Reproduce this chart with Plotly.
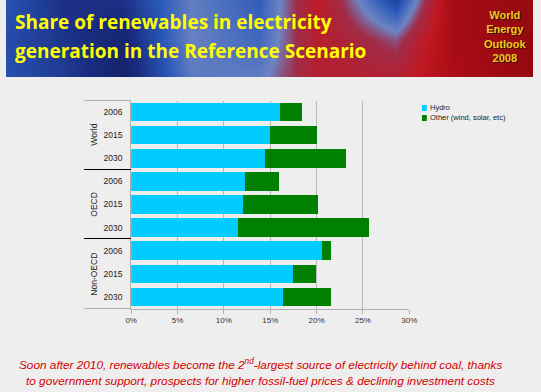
import plotly.graph_objects as go

# ---- data ----
regions = ["World", "OECD", "Non-OECD"]
years = ["2006", "2015", "2030"]
hydro = [16.0, 15.0, 14.4, 12.3, 12.1, 11.5, 20.6, 17.5, 16.4]
other = [2.4, 5.0, 8.8, 3.6, 8.0, 14.2, 1.0, 2.4, 5.2]
x_ticks = [0, 5, 10, 15, 20, 25, 30]
x_tick_labels = ["0%", "5%", "10%", "15%", "20%", "25%", "30%"]
series_names = ["Hydro", "Other (wind, solar, etc)"]
series_colors = ["#00ccff", "#008000"]

cats = [f"{r}|{y}" for r in regions for y in years]
tick_years = [y for r in regions for y in years]

W, H = 541, 392
# plot area in pixels
px_l, px_r, px_t, px_b = 128.5, 414, 100.5, 308.5
banner_h = 77

fig = go.Figure()

# banner (decorative gradient)
banner_x = [-40, 0, 60, 120, 190, 260, 320, 400, 460, 541, 580]
banner_z = [
    [0.28, 0.28, 0.22, 0.06, 0.40, 0.46, 0.62, 0.70, 0.82, 0.95, 0.95],
    [0.26, 0.26, 0.18, 0.10, 0.44, 0.35, 0.66, 0.50, 0.86, 0.95, 0.95],
    [0.30, 0.30, 0.15, 0.20, 0.42, 0.30, 0.70, 0.08, 0.88, 0.93, 0.93],
]
fig.add_trace(go.Heatmap(
    z=banner_z, x=banner_x, y=[-0.5, 1, 2.5],
    zsmooth="best", showscale=False, hoverinfo="skip", zmin=0, zmax=1,
    colorscale=[[0, "#0c1850"], [0.15, "#1a2c80"], [0.3, "#2a58b8"],
                [0.45, "#6c84c4"], [0.55, "#a02c48"], [0.7, "#c01822"],
                [0.85, "#a80c14"], [1, "#8a0810"]],
    xaxis="x2", yaxis="y2"))

for name, vals, col in zip(series_names, [hydro, other], series_colors):
    fig.add_trace(go.Bar(
        y=cats, x=vals, name=name, orientation="h",
        marker=dict(color=col, line=dict(width=0)),
        width=0.8, showlegend=False))

fig.update_layout(
    width=W, height=H, autosize=False,
    margin=dict(l=0, r=0, t=0, b=0, pad=0),
    paper_bgcolor="#eeeeee", plot_bgcolor="#eeeeee",
    barmode="stack",
    xaxis=dict(domain=[px_l / W, px_r / W], range=[0, 30],
               tickvals=x_ticks, ticktext=x_tick_labels,
               showgrid=True, gridcolor="#b8b8b8", gridwidth=1,
               zeroline=False, showline=True, linecolor="#b0b0b0",
               ticks="outside", ticklen=4, tickcolor="#b0b0b0",
               tickfont=dict(family="Liberation Sans", size=8, color="#333333"),
               fixedrange=True),
    yaxis=dict(domain=[1 - px_b / H, 1 - px_t / H], type="category",
               categoryorder="array", categoryarray=cats,
               autorange="reversed",
               tickvals=cats, ticktext=tick_years,
               ticks="", showline=True, linecolor="#b0b0b0",
               ticklabelstandoff=6,
               tickfont=dict(family="Liberation Sans", size=8.5, color="#222222")),
    xaxis2=dict(domain=[0, 1], range=[0, W], visible=False, fixedrange=True),
    yaxis2=dict(domain=[1 - banner_h / H, 1], range=[0, 2], visible=False,
                fixedrange=True),
)

def ypx(p):
    return 1 - p / H

shapes = [dict(type="rect", xref="paper", yref="paper", layer="below",
               x0=0, x1=1, y0=ypx(banner_h), y1=1,
               fillcolor="#3a3f8a", line=dict(width=0))]
for yy, col in [(px_t, "#b0b0b0"), (169.5, "#000000"), (238.5, "#000000"), (px_b, "#b0b0b0")]:
    shapes.append(dict(type="line", xref="paper", yref="paper",
                       x0=80 / W, x1=px_l / W, y0=ypx(yy), y1=ypx(yy),
                       line=dict(color=col, width=1)))
for i, col in enumerate(series_colors):
    yc = 108 + i * 10
    shapes.append(dict(type="rect", xref="paper", yref="paper",
                       x0=427 / W, x1=432 / W, y0=ypx(yc + 3), y1=ypx(yc - 3),
                       fillcolor=col, line=dict(width=0)))
fig.update_layout(shapes=shapes)

ann = []
for i, name in enumerate(series_names):
    ann.append(dict(text=name, xref="paper", yref="paper", x=433.5 / W,
                    y=ypx(108 + i * 10), xanchor="left", yanchor="middle",
                    showarrow=False,
                    font=dict(family="Liberation Sans", size=7.5, color="#222222")))
for reg, yc in zip(regions, [135, 204, 274]):
    ann.append(dict(text=reg, xref="paper", yref="paper", x=90 / W, y=ypx(yc),
                    textangle=-90, showarrow=False, xanchor="center", yanchor="middle",
                    font=dict(family="Liberation Sans", size=8.5, color="#222222")))
for line, yc in [("Share of renewables in electricity", 22),
                 ("generation in the Reference Scenario", 51)]:
    ann.append(dict(text=f"<b>{line}</b>", xref="paper", yref="paper",
                    x=7 / W, y=ypx(yc), xanchor="left", yanchor="middle",
                    showarrow=False,
                    font=dict(family="Open Sans", size=19, color="#ffff00")))
logo = "<b>World<br>Energy<br>Outlook<br>2008</b>"
for dx, dy, col in [(1, 1, "#3a1000"), (0, 0, "#f0c820")]:
    ann.append(dict(text=logo, xref="paper", yref="paper", x=512 / W, y=ypx(37),
                    xshift=dx, yshift=-dy,
                    xanchor="center", yanchor="middle", align="center", showarrow=False,
                    font=dict(family="Liberation Sans", size=11, color=col)))
for line, yc in [("<i>Soon after 2010, renewables become the 2<sup>nd</sup>-largest source of electricity behind coal, thanks</i>", 364),
                 ("<i>to government support, prospects for higher fossil-fuel prices &amp; declining investment costs</i>", 381)]:
    ann.append(dict(text=line, xref="paper", yref="paper", x=261 / W, y=ypx(yc),
                    xanchor="center", yanchor="middle", showarrow=False,
                    font=dict(family="Liberation Sans", size=11.8, color="#d40000")))
fig.update_layout(annotations=ann)

post = """
var gd = document.getElementById('{plot_id}');
var de = document.documentElement, b = document.body;
[de, b].forEach(function(e){ e.style.margin='0'; e.style.padding='0';
  e.style.height='392px'; e.style.overflow='hidden'; e.style.background='#eeeeee'; });
b.style.fontSize='0'; b.style.lineHeight='0';
var p = gd.parentElement; p.style.height='392px'; p.style.overflow='hidden';
gd.querySelectorAll('.plot-container, .svg-container').forEach(function(e){ e.style.display='block'; });
"""
fig.write_html("out.html", config={"displayModeBar": False, "responsive": False},
               post_script=post)
